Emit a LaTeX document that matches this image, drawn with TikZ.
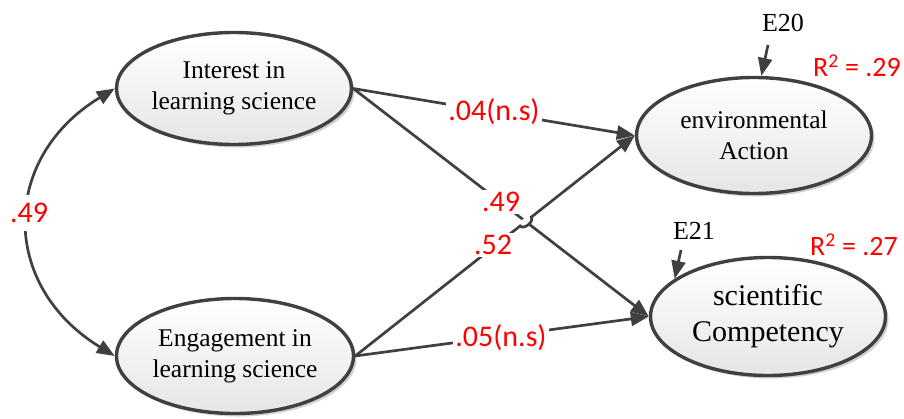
\documentclass[tikz,border=0pt]{standalone}
\usepackage{fontspec}
\setmainfont{Liberation Serif}
\newfontfamily\labfont{Carlito}
\usetikzlibrary{arrows.meta,shapes.geometric,shadows,calc}
\definecolor{edge}{HTML}{404040}
\begin{document}
\begin{tikzpicture}[x=1pt,y=-1pt,
 latent/.style={ellipse, draw=edge, line width=3.4pt, top color=white, bottom color=black!10,
   drop shadow={shadow xshift=3pt, shadow yshift=-3pt, opacity=0.18, fill=black},
   inner sep=0pt, align=center, font=\fontsize{25.5}{31}\selectfont},
 conn/.style={draw=edge, line width=2.7pt, -{Triangle[length=18pt,width=14pt]}},
 coef/.style={text=red, fill=white, inner sep=2pt, font=\labfont\fontsize{30}{32}\selectfont},
 err/.style={font=\fontsize{26}{30}\selectfont, inner sep=0pt},
 rsq/.style={text=red, inner sep=0pt, font=\labfont\fontsize{28}{30}\selectfont}]
\useasboundingbox (0,0) rectangle (904,418);

\node[latent, minimum width=235pt, minimum height=112pt] (int) at (234,88.5) {Interest in\\learning science};
\node[latent, minimum width=237pt, minimum height=115pt] (eng) at (235,356) {Engagement in\\learning science};
\node[latent, minimum width=235pt, minimum height=116pt] (env) at (754,135.5) {environmental\\Action};
\node[latent, minimum width=235pt, minimum height=118pt, font=\fontsize{30}{36}\selectfont] (sci) at (768,316.5) {scientific\\Competency};

\node[err] (e20) at (783,23) {E20};
\node[err] (e21) at (694,231) {E21};
\coordinate (e20t) at (768,45);
\coordinate (e21t) at (681,250);
\draw[conn] (e20t) -- (env.83);
\draw[conn] (e21t) -- (sci.158);

\draw[conn, {Triangle[length=18pt,width=14pt]}-{Triangle[length=18pt,width=14pt]}]
  (int.west) .. controls (0,158) and (0,286) .. (eng.west);

\draw[conn] (int.east) -- (env.west);
\draw[conn] (int.east) -- (sci.west);
\draw[conn] (eng.east) -- (sci.west);
\coordinate (X) at (intersection of int.east--sci.west and eng.east--env.west);
\coordinate (h1) at ($(X)!7pt!(eng.east)$);
\coordinate (h2) at ($(X)!7pt!(env.west)$);
\draw[white, line width=7pt] (h1) -- (h2);
\draw[conn] (eng.east) -- (h1) to[bend right=90] (h2) -- (env.west);

\node[coef] (l1) at (494,112) {.04(n.s)};
\node[coef] (l2) at (501,202) {.49};
\node[coef] (l3) at (493,245) {.52};
\node[coef] (l4) at (501,338) {.05(n.s)};
\node[coef, inner ysep=8pt] (l0) at (29,213) {.49};

\node[rsq] (r1) at (857,66) {R\textsuperscript{2} = .29};
\node[rsq] (r2) at (854,245) {R\textsuperscript{2} = .27};
\end{tikzpicture}
\end{document}
